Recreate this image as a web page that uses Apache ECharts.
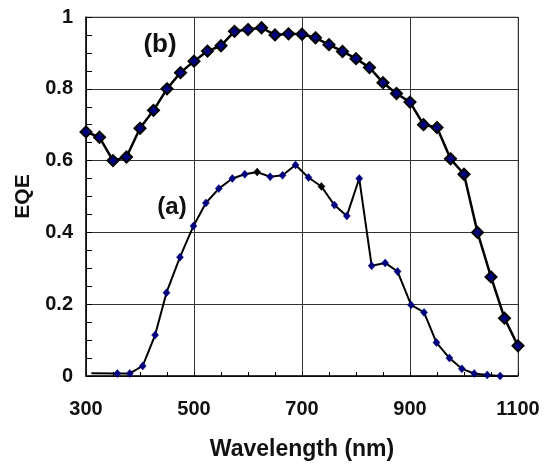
<!DOCTYPE html>
<html>
<head>
<meta charset="utf-8">
<script src="https://cdn.jsdelivr.net/npm/echarts@6/dist/echarts.min.js"></script>
<style>
  html, body { margin: 0; padding: 0; background: #fff; }
  #chart { width: 545px; height: 466px; }
</style>
</head>
<body>
<div id="chart"></div>
<script>
// curve (a) - small diamonds
var aWave = [310, 358, 381, 405, 428, 449, 474, 499, 522, 546, 571, 594, 617, 641, 664, 688,
             712, 736, 760, 783, 806, 829, 854, 877, 902, 926, 949, 973, 996, 1019, 1043, 1067];
var aEQE  = [0.008, 0.007, 0.007, 0.028, 0.114, 0.232, 0.331, 0.418, 0.482, 0.522, 0.550, 0.562, 0.568, 0.555, 0.559, 0.588,
             0.553, 0.528, 0.476, 0.446, 0.550, 0.307, 0.315, 0.291, 0.198, 0.177, 0.093, 0.050, 0.020, 0.007, 0.003, 0.0];
var aBlack = [617, 736];   // points drawn with black marker
var aNoMark = [310];       // line start, no marker

// curve (b) - big diamonds
var bWave = [300, 325, 350, 375, 400, 425, 450, 475, 500, 525, 550, 575, 600, 625, 650, 675, 700,
             725, 750, 775, 800, 825, 850, 875, 900, 925, 950, 975, 1000, 1025, 1050, 1075, 1100];
var bEQE  = [0.680, 0.665, 0.600, 0.610, 0.690, 0.740, 0.800, 0.845, 0.877, 0.905, 0.920, 0.960, 0.965, 0.970, 0.950, 0.953, 0.952,
             0.942, 0.923, 0.904, 0.884, 0.859, 0.817, 0.787, 0.763, 0.700, 0.692, 0.605, 0.562, 0.400, 0.276, 0.161, 0.084];

var xTicks = [300, 500, 700, 900, 1100];
var yTicks = [0, 0.2, 0.4, 0.6, 0.8, 1];

var navy = '#00007f';
var font = 'Liberation Sans, Arial, sans-serif';

var aData = aWave.map(function (w, i) {
  var item = { value: [w, aEQE[i]] };
  if (aBlack.indexOf(w) >= 0) item.itemStyle = { color: '#000', borderColor: '#000' };
  if (aNoMark.indexOf(w) >= 0) item.symbol = 'none';
  return item;
});
var bData = bWave.map(function (w, i) { return [w, bEQE[i]]; });

var chart = echarts.init(document.getElementById('chart'));
var option = {
  animation: false,
  backgroundColor: '#fff',
  grid: {
    left: 86, right: 27, top: 17, bottom: 87,
    show: true, borderColor: '#9a9a9a', borderWidth: 1
  },
  xAxis: {
    type: 'value',
    min: xTicks[0], max: xTicks[xTicks.length - 1], interval: 200,
    name: 'Wavelength (nm)',
    nameLocation: 'middle', nameGap: 62,
    nameTextStyle: { fontFamily: font, fontWeight: 'bold', fontSize: 23, color: '#111', verticalAlign: 'top' },
    axisLine: { show: true, lineStyle: { color: '#000', width: 1.5 } },
    axisTick: { show: true, inside: true, length: 4, lineStyle: { color: '#000' } },
    minorTick: { show: true, splitNumber: 4, length: 4, lineStyle: { color: '#000' } },
    splitLine: { show: true, lineStyle: { color: '#333', width: 1 } },
    axisLabel: { margin: 23, fontFamily: font, fontWeight: 'bold', fontSize: 20, color: '#111',
      formatter: function (v) { return String(v); } }
  },
  yAxis: {
    type: 'value',
    min: yTicks[0], max: yTicks[yTicks.length - 1], interval: 0.2,
    name: 'EQE',
    nameLocation: 'middle', nameGap: 52,
    nameTextStyle: { fontFamily: font, fontWeight: 'bold', fontSize: 21, color: '#111' },
    axisLine: { show: true, lineStyle: { color: '#000', width: 1.5 } },
    axisTick: { show: true, inside: true, length: 6, lineStyle: { color: '#000' } },
    minorTick: { show: true, splitNumber: 4, length: 6, lineStyle: { color: '#000' } },
    splitLine: { show: true, lineStyle: { color: '#333', width: 1 } },
    axisLabel: { margin: 13, fontFamily: font, fontWeight: 'bold', fontSize: 20, color: '#111',
      formatter: function (v) { return String(+v.toFixed(1)); } }
  },
  series: [
    {
      name: '(a)', type: 'line', data: aData,
      symbol: 'diamond', symbolSize: [7, 8],
      lineStyle: { color: '#000', width: 2 },
      itemStyle: { color: navy, borderColor: navy, borderWidth: 0.5 },
      z: 3
    },
    {
      name: '(b)', type: 'line', data: bData,
      symbol: 'diamond', symbolSize: 11,
      lineStyle: { color: '#000', width: 2.5 },
      itemStyle: { color: navy, borderColor: '#000', borderWidth: 2 },
      z: 4
    }
  ],
  graphic: [
    { type: 'text', x: 160, y: 45, style: { text: '(b)', align: 'center', verticalAlign: 'middle',
      fontFamily: font, fontWeight: 'bold', fontSize: 26, fill: '#111' } },
    { type: 'text', x: 172, y: 207, style: { text: '(a)', align: 'center', verticalAlign: 'middle',
      fontFamily: font, fontWeight: 'bold', fontSize: 24, fill: '#111' } }
  ]
};
chart.setOption(option);
</script>
</body>
</html>
